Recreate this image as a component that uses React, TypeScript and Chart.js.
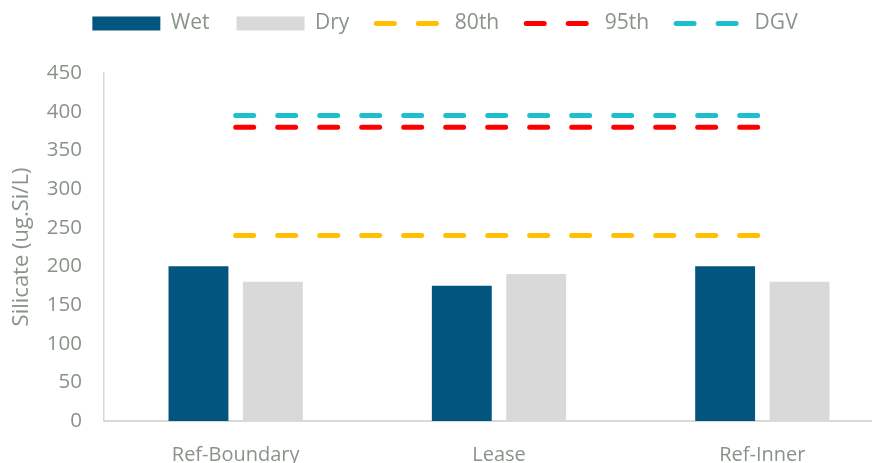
import { useEffect, useRef } from "react";
import { Chart, registerables } from "chart.js";

Chart.register(...registerables);

const categories = ["Ref-Boundary", "Lease", "Ref-Inner"];
const wetValues = [200, 175, 200];
const dryValues = [180, 190, 180];
const p80Values = [240, 240, 240];
const p95Values = [380, 380, 380];
const dgvValues = [395, 395, 395];
const yMin = 0;
const yMax = 450;
const yStep = 50;
const yTitle = "Silicate (ug.Si/L)";

const TEXT = "#899389";
const FONT = "'Open Sans', sans-serif";
const AXIS = "#D9D9D9";

const CANVAS_W = 898;
const CANVAS_H = 492;

function lineDataset(label: string, data: number[], color: string) {
  return {
    type: "line" as const,
    label,
    data,
    borderColor: color,
    backgroundColor: color,
    borderWidth: 5,
    borderDash: [18, 24],
    borderCapStyle: "round" as const,
    pointRadius: 0,
    pointHoverRadius: 0,
    pointStyle: "line" as const,
    fill: false,
    tension: 0,
  };
}

const legendHeightPlugin = {
  id: "legendHeight",
  beforeInit(chart: any) {
    const legend = chart.legend;
    if (!legend) return;
    const orig = legend.fit;
    legend.fit = function () {
      orig.call(this);
      this.height = 87;
    };
  },
};

export default function App() {
  const ref = useRef<HTMLCanvasElement>(null);

  useEffect(() => {
    const canvas = ref.current!;
    const chart = new Chart(canvas, {
      type: "bar",
      data: {
        labels: categories,
        datasets: [
          {
            label: "Wet",
            data: wetValues,
            backgroundColor: "#02557F",
            borderWidth: 0,
            categoryPercentage: 0.565,
            barPercentage: 0.805,
          },
          {
            label: "Dry",
            data: dryValues,
            backgroundColor: "#D9D9D9",
            borderWidth: 0,
            categoryPercentage: 0.565,
            barPercentage: 0.805,
          },
          lineDataset("80th", p80Values, "#FFC000"),
          lineDataset("95th", p95Values, "#FF0000"),
          lineDataset("DGV", dgvValues, "#1EBFCC"),
        ] as any,
      },
      options: {
        responsive: false,
        animation: false,
        devicePixelRatio: 1,
        layout: { padding: 0 },
        plugins: {
          legend: {
            position: "top",
            labels: {
              usePointStyle: true,
              pointStyleWidth: 68,
              boxHeight: 14,
              padding: 27,
              color: TEXT,
              font: { family: FONT, size: 21 },
              generateLabels: (c: any) => {
                const items = Chart.defaults.plugins.legend.labels.generateLabels(c);
                return items.map((it: any) => {
                  const ds: any = c.data.datasets[it.datasetIndex];
                  if (ds.type === "line") {
                    return {
                      ...it,
                      pointStyle: "line",
                      lineWidth: ds.borderWidth,
                      lineDash: ds.borderDash,
                      lineCap: ds.borderCapStyle,
                      strokeStyle: ds.borderColor,
                      fillStyle: ds.borderColor,
                    };
                  }
                  return {
                    ...it,
                    pointStyle: "rect",
                    lineWidth: 0,
                    lineDash: [],
                    fillStyle: ds.backgroundColor,
                    strokeStyle: ds.backgroundColor,
                  };
                });
              },
            },
          },
          tooltip: { enabled: false },
        },
        scales: {
          x: {
            grid: { display: false, drawTicks: false },
            border: { color: AXIS, width: 2 },
            ticks: {
              color: TEXT,
              font: { family: FONT, size: 20 },
              padding: 22,
              maxRotation: 0,
              autoSkip: false,
            },
            afterFit: (s: any) => {
              s.height = 57;
            },
          },
          y: {
            min: yMin,
            max: yMax,
            grid: { display: false, drawTicks: false },
            border: { color: AXIS, width: 1.5 },
            ticks: {
              stepSize: yStep,
              color: TEXT,
              font: { family: FONT, size: 20.5 },
              padding: 22,
            },
            title: {
              display: true,
              text: yTitle,
              color: TEXT,
              font: { family: FONT, size: 22, weight: "normal" },
              padding: { top: 13, bottom: 0 },
            },
            afterFit: (s: any) => {
              s.width = 108;
            },
          },
        },
      },
      plugins: [legendHeightPlugin],
    });
    return () => chart.destroy();
  }, []);

  return (
    <div style={{ position: "relative", width: 872, height: 455, overflow: "hidden" }}>
      <canvas
        ref={ref}
        width={CANVAS_W}
        height={CANVAS_H}
        style={{ position: "absolute", left: -12, top: -22, width: CANVAS_W, height: CANVAS_H }}
      />
    </div>
  );
}
